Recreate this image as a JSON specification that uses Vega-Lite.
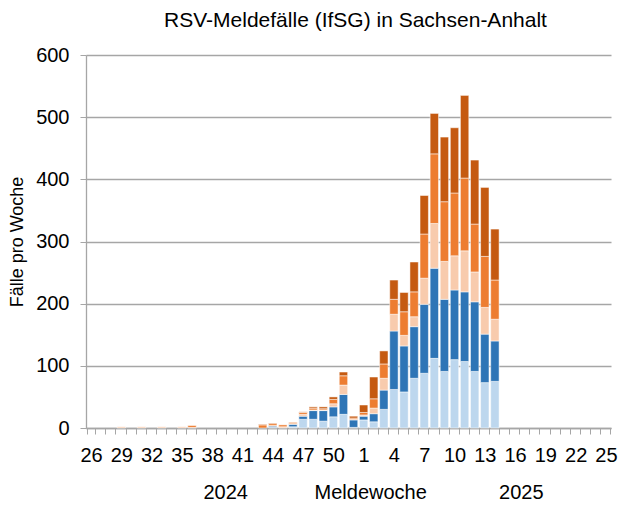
{
  "$schema": "https://vega.github.io/schema/vega-lite/v6.json",
  "width": 525,
  "height": 373,
  "autosize": "none",
  "padding": {"left": 86, "top": 55, "right": 10, "bottom": 80},
  "background": "#ffffff",
  "config": {"font": "Liberation Sans", "view": {"stroke": null}},
  "title": {"text": "RSV-Meldefälle (IfSG) in Sachsen-Anhalt", "fontSize": 21, "fontWeight": "normal", "color": "#000000", "offset": 14, "dx": 7},
  "data": {"values": [
    {"woche": "26", "Gruppe1": 0, "Gruppe2": 0, "Gruppe3": 0, "Gruppe4": 0, "Gruppe5": 0},
    {"woche": "27", "Gruppe1": 0, "Gruppe2": 0, "Gruppe3": 0, "Gruppe4": 0, "Gruppe5": 0},
    {"woche": "28", "Gruppe1": 0, "Gruppe2": 0, "Gruppe3": 0, "Gruppe4": 0, "Gruppe5": 0},
    {"woche": "29", "Gruppe1": 0, "Gruppe2": 0, "Gruppe3": 2, "Gruppe4": 0, "Gruppe5": 0},
    {"woche": "30", "Gruppe1": 0, "Gruppe2": 0, "Gruppe3": 0, "Gruppe4": 0, "Gruppe5": 0},
    {"woche": "31", "Gruppe1": 0, "Gruppe2": 0, "Gruppe3": 2, "Gruppe4": 0, "Gruppe5": 0},
    {"woche": "32", "Gruppe1": 0, "Gruppe2": 0, "Gruppe3": 0, "Gruppe4": 0, "Gruppe5": 0},
    {"woche": "33", "Gruppe1": 0, "Gruppe2": 0, "Gruppe3": 2, "Gruppe4": 0, "Gruppe5": 0},
    {"woche": "34", "Gruppe1": 0, "Gruppe2": 0, "Gruppe3": 0, "Gruppe4": 0, "Gruppe5": 0},
    {"woche": "35", "Gruppe1": 0, "Gruppe2": 0, "Gruppe3": 2, "Gruppe4": 0, "Gruppe5": 0},
    {"woche": "36", "Gruppe1": 0, "Gruppe2": 0, "Gruppe3": 1, "Gruppe4": 3, "Gruppe5": 0},
    {"woche": "37", "Gruppe1": 0, "Gruppe2": 0, "Gruppe3": 0, "Gruppe4": 0, "Gruppe5": 0},
    {"woche": "38", "Gruppe1": 0, "Gruppe2": 0, "Gruppe3": 0, "Gruppe4": 0, "Gruppe5": 0},
    {"woche": "39", "Gruppe1": 0, "Gruppe2": 0, "Gruppe3": 0, "Gruppe4": 0, "Gruppe5": 0},
    {"woche": "40", "Gruppe1": 0, "Gruppe2": 0, "Gruppe3": 0, "Gruppe4": 0, "Gruppe5": 0},
    {"woche": "41", "Gruppe1": 0, "Gruppe2": 0, "Gruppe3": 0, "Gruppe4": 0, "Gruppe5": 0},
    {"woche": "42", "Gruppe1": 0, "Gruppe2": 0, "Gruppe3": 0, "Gruppe4": 0, "Gruppe5": 0},
    {"woche": "43", "Gruppe1": 0, "Gruppe2": 0, "Gruppe3": 0, "Gruppe4": 5, "Gruppe5": 1},
    {"woche": "44", "Gruppe1": 1, "Gruppe2": 2, "Gruppe3": 1, "Gruppe4": 3, "Gruppe5": 1},
    {"woche": "45", "Gruppe1": 0, "Gruppe2": 0, "Gruppe3": 2, "Gruppe4": 3, "Gruppe5": 0},
    {"woche": "46", "Gruppe1": 2, "Gruppe2": 4, "Gruppe3": 1, "Gruppe4": 2, "Gruppe5": 0},
    {"woche": "47", "Gruppe1": 14, "Gruppe2": 5, "Gruppe3": 3, "Gruppe4": 3, "Gruppe5": 1},
    {"woche": "48", "Gruppe1": 14, "Gruppe2": 14, "Gruppe3": 1, "Gruppe4": 3, "Gruppe5": 2},
    {"woche": "49", "Gruppe1": 11, "Gruppe2": 17, "Gruppe3": 1, "Gruppe4": 2, "Gruppe5": 3},
    {"woche": "50", "Gruppe1": 18, "Gruppe2": 16, "Gruppe3": 5, "Gruppe4": 7, "Gruppe5": 4},
    {"woche": "51", "Gruppe1": 22, "Gruppe2": 32, "Gruppe3": 15, "Gruppe4": 15, "Gruppe5": 6},
    {"woche": "52", "Gruppe1": 1, "Gruppe2": 12, "Gruppe3": 1, "Gruppe4": 2, "Gruppe5": 3},
    {"woche": "1", "Gruppe1": 13, "Gruppe2": 6, "Gruppe3": 2, "Gruppe4": 4, "Gruppe5": 12},
    {"woche": "2", "Gruppe1": 10, "Gruppe2": 13, "Gruppe3": 9, "Gruppe4": 15, "Gruppe5": 35},
    {"woche": "3", "Gruppe1": 30, "Gruppe2": 31, "Gruppe3": 19, "Gruppe4": 23, "Gruppe5": 21},
    {"woche": "4", "Gruppe1": 62, "Gruppe2": 94, "Gruppe3": 27, "Gruppe4": 24, "Gruppe5": 31},
    {"woche": "5", "Gruppe1": 58, "Gruppe2": 74, "Gruppe3": 17, "Gruppe4": 38, "Gruppe5": 31},
    {"woche": "6", "Gruppe1": 80, "Gruppe2": 83, "Gruppe3": 16, "Gruppe4": 40, "Gruppe5": 48},
    {"woche": "7", "Gruppe1": 88, "Gruppe2": 111, "Gruppe3": 42, "Gruppe4": 71, "Gruppe5": 62},
    {"woche": "8", "Gruppe1": 112, "Gruppe2": 145, "Gruppe3": 72, "Gruppe4": 112, "Gruppe5": 65},
    {"woche": "9", "Gruppe1": 91, "Gruppe2": 116, "Gruppe3": 61, "Gruppe4": 96, "Gruppe5": 104},
    {"woche": "10", "Gruppe1": 110, "Gruppe2": 112, "Gruppe3": 55, "Gruppe4": 101, "Gruppe5": 105},
    {"woche": "11", "Gruppe1": 107, "Gruppe2": 112, "Gruppe3": 66, "Gruppe4": 117, "Gruppe5": 133},
    {"woche": "12", "Gruppe1": 91, "Gruppe2": 112, "Gruppe3": 48, "Gruppe4": 77, "Gruppe5": 103},
    {"woche": "13", "Gruppe1": 73, "Gruppe2": 78, "Gruppe3": 43, "Gruppe4": 82, "Gruppe5": 111},
    {"woche": "14", "Gruppe1": 75, "Gruppe2": 65, "Gruppe3": 35, "Gruppe4": 63, "Gruppe5": 82},
    {"woche": "15", "Gruppe1": 0, "Gruppe2": 0, "Gruppe3": 0, "Gruppe4": 0, "Gruppe5": 0},
    {"woche": "16", "Gruppe1": 0, "Gruppe2": 0, "Gruppe3": 0, "Gruppe4": 0, "Gruppe5": 0},
    {"woche": "17", "Gruppe1": 0, "Gruppe2": 0, "Gruppe3": 0, "Gruppe4": 0, "Gruppe5": 0},
    {"woche": "18", "Gruppe1": 0, "Gruppe2": 0, "Gruppe3": 0, "Gruppe4": 0, "Gruppe5": 0},
    {"woche": "19", "Gruppe1": 0, "Gruppe2": 0, "Gruppe3": 0, "Gruppe4": 0, "Gruppe5": 0},
    {"woche": "20", "Gruppe1": 0, "Gruppe2": 0, "Gruppe3": 0, "Gruppe4": 0, "Gruppe5": 0},
    {"woche": "21", "Gruppe1": 0, "Gruppe2": 0, "Gruppe3": 0, "Gruppe4": 0, "Gruppe5": 0},
    {"woche": "22", "Gruppe1": 0, "Gruppe2": 0, "Gruppe3": 0, "Gruppe4": 0, "Gruppe5": 0},
    {"woche": "23", "Gruppe1": 0, "Gruppe2": 0, "Gruppe3": 0, "Gruppe4": 0, "Gruppe5": 0},
    {"woche": "24", "Gruppe1": 0, "Gruppe2": 0, "Gruppe3": 0, "Gruppe4": 0, "Gruppe5": 0},
    {"woche": "25", "Gruppe1": 0, "Gruppe2": 0, "Gruppe3": 0, "Gruppe4": 0, "Gruppe5": 0}
  ]},
  "transform": [
    {"fold": ["Gruppe1", "Gruppe2", "Gruppe3", "Gruppe4", "Gruppe5"], "as": ["gruppe", "faelle"]},
    {"filter": "datum.faelle > 0"}
  ],
  "mark": {"type": "bar", "stroke": "#ffffff", "strokeWidth": 0.5},
  "encoding": {
    "x": {
      "field": "woche",
      "type": "ordinal",
      "scale": {
        "domain": ["26","27","28","29","30","31","32","33","34","35","36","37","38","39","40","41","42","43","44","45","46","47","48","49","50","51","52","1","2","3","4","5","6","7","8","9","10","11","12","13","14","15","16","17","18","19","20","21","22","23","24","25"],
        "paddingInner": 0.17,
        "paddingOuter": 0.085
      },
      "axis": {
        "title": "2024\u00a0\u00a0\u00a0\u00a0\u00a0\u00a0\u00a0\u00a0\u00a0\u00a0\u00a0\u00a0Meldewoche\u00a0\u00a0\u00a0\u00a0\u00a0\u00a0\u00a0\u00a0\u00a0\u00a0\u00a0\u00a0\u00a02025",
        "titleFontSize": 20,
        "titleFontWeight": "normal",
        "titleColor": "#000000",
        "titlePadding": 17,
        "titleX": 287,
        "labelAngle": 0,
        "labelFontSize": 20,
        "labelColor": "#000000",
        "labelPadding": 11,
        "labelOverlap": false,
        "labelExpr": "indexof(['26','29','32','35','38','41','44','47','50','1','4','7','10','13','16','19','22','25'], datum.value) >= 0 ? datum.value : ''",
        "tickBand": "extent",
        "tickSize": 6,
        "tickColor": "#A6A6A6",
        "domainColor": "#A6A6A6",
        "domainWidth": 1.3,
        "grid": false
      }
    },
    "y": {
      "field": "faelle",
      "type": "quantitative",
      "stack": "zero",
      "scale": {"domain": [0, 600]},
      "axis": {
        "title": "Fälle pro Woche",
        "titleFontSize": 18,
        "titleFontWeight": "normal",
        "titleColor": "#000000",
        "titlePadding": 9,
        "values": [0, 100, 200, 300, 400, 500, 600],
        "labelFontSize": 20,
        "labelColor": "#000000",
        "labelPadding": 11,
        "tickSize": 6,
        "tickColor": "#A6A6A6",
        "domainColor": "#A6A6A6",
        "domainWidth": 1.3,
        "gridColor": "#A6A6A6",
        "gridWidth": 1.3
      }
    },
    "color": {
      "field": "gruppe",
      "type": "nominal",
      "scale": {
        "domain": ["Gruppe1", "Gruppe2", "Gruppe3", "Gruppe4", "Gruppe5"],
        "range": ["#BDD7EE", "#2E75B6", "#F8CBAD", "#ED7D31", "#C55A11"]
      },
      "legend": null
    },
    "order": {"field": "gruppe", "sort": "ascending"}
  }
}
